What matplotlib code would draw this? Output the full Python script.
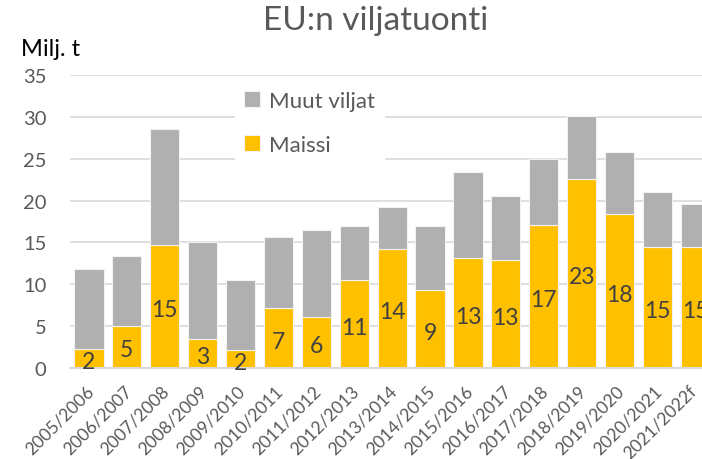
import matplotlib
matplotlib.use("Agg")
import matplotlib.pyplot as plt
import matplotlib.transforms as mtransforms
import numpy as np

seasons = ["2005/2006", "2006/2007", "2007/2008", "2008/2009", "2009/2010",
           "2010/2011", "2011/2012", "2012/2013", "2013/2014", "2014/2015",
           "2015/2016", "2016/2017", "2017/2018", "2018/2019", "2019/2020",
           "2020/2021", "2021/2022f"]
maissi = [2.3, 5.1, 14.7, 3.5, 2.2, 7.2, 6.1, 10.5, 14.2, 9.3, 13.1, 12.9,
          17.1, 22.6, 18.4, 14.5, 14.5]
totals = [11.8, 13.4, 28.5, 15.0, 10.5, 15.6, 16.5, 17.0, 19.2, 17.0, 23.4,
          20.5, 25.0, 30.1, 25.8, 21.0, 19.6]
muut = [t - m for t, m in zip(totals, maissi)]
maissi_labels = ["2", "5", "15", "3", "2", "7", "6", "11", "14", "9", "13",
                 "13", "17", "23", "18", "15", "15"]
yticks = [0, 5, 10, 15, 20, 25, 30, 35]

plt.rcParams['font.family'] = ['Lato', 'DejaVu Sans']

W, H = 702, 460
fig = plt.figure(figsize=(W / 100, H / 100), dpi=100)
left, right = 70 / W, 714.3 / W
bottom, top = 1 - 369.3 / H, 1 - 75.7 / H
ax = fig.add_axes([left, bottom, right - left, top - bottom])

x = np.arange(len(seasons))
yellow = "#FFC000"
gray = "#B0B0B0"
bw = 0.77
b1 = ax.bar(x, maissi, width=bw, color=yellow, edgecolor="#f2f2f2", linewidth=0.8,
            label="Maissi", zorder=3)
b2 = ax.bar(x, muut, bottom=maissi, width=bw, color=gray, edgecolor="#f2f2f2",
            linewidth=0.8, label="Muut viljat", zorder=3)

down = mtransforms.ScaledTranslation(0, -3 / 100, fig.dpi_scale_trans)
for xi, m, lab in zip(x, maissi, maissi_labels):
    ax.text(xi, m / 2, lab, ha="center", va="center", fontsize=16.5,
            color="#404040", zorder=5, clip_on=False,
            transform=ax.transData + down)

ax.set_xlim(-0.5, len(seasons) - 0.5)
ax.set_ylim(0, 35)
ax.set_yticks(yticks)
ax.set_yticklabels([str(v) for v in yticks], fontsize=14.5, color="#595959")
ax.tick_params(axis="y", length=0, pad=17)
ax.set_xticks(x)
ax.set_xticklabels(seasons, rotation=45, ha="right", rotation_mode="anchor",
                   fontsize=12.6, color="#595959")
ax.tick_params(axis="x", length=0, pad=10)
xlabels = ax.get_xticklabels()
for i, lbl in enumerate(xlabels):
    dx = -3.5 if i < len(xlabels) - 1 else -7.0
    shift = mtransforms.ScaledTranslation(dx / 100, 0, fig.dpi_scale_trans)
    lbl.set_transform(lbl.get_transform() + shift)
ax.grid(axis="y", color="#d9d9d9", linewidth=1.2, zorder=0)
ax.set_axisbelow(True)
for s in ["top", "right", "left"]:
    ax.spines[s].set_visible(False)
ax.spines["bottom"].set_color("#d9d9d9")
ax.spines["bottom"].set_linewidth(1.5)
ax.spines["bottom"].set_zorder(4)

leg = ax.legend(handles=[b2, b1], labels=["Muut viljat", "Maissi"],
                loc="upper left", bbox_to_anchor=((224 - 70) / (714.3 - 70), 1.012),
                frameon=True, fontsize=16, labelcolor="#595959",
                handlelength=0.72, handleheight=0.72, handletextpad=0.4,
                labelspacing=1.07, borderpad=0.4, fancybox=False)
leg.get_frame().set_edgecolor("white")
leg.get_frame().set_facecolor("white")
leg.get_frame().set_alpha(1.0)
leg.set_zorder(6)

fig.text(376 / W, 1 - 21 / H, "EU:n viljatuonti", ha="center", va="center",
         fontsize=24, color="#595959")
fig.text(21 / W, 1 - 50 / H, "Milj. t", ha="left", va="center",
         fontsize=17, color="black")

fig.savefig("out.png", dpi=100)
